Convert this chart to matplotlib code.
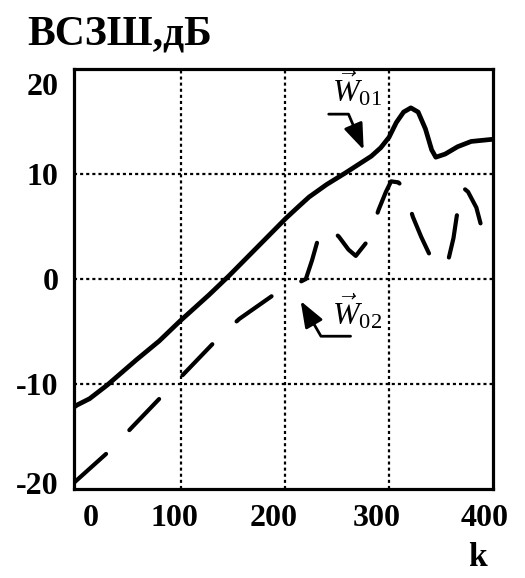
import numpy as np
import matplotlib
matplotlib.use('Agg')
import matplotlib.pyplot as plt
from matplotlib.transforms import ScaledTranslation

# values
k_w01 = [-3, 0, 12, 29, 57, 79, 99, 108, 127, 146, 175, 201, 213, 223, 240, 258, 283, 292, 300, 307, 314, 321, 328, 335, 341, 345, 354, 366, 379, 399]
w01 = [-12.2, -12.0, -11.4, -10.1, -7.7, -5.9, -4.0, -3.2, -1.5, 0.3, 3.2, 5.8, 6.9, 7.8, 9.0, 10.1, 11.7, 12.5, 13.5, 14.9, 15.9, 16.3, 15.9, 14.3, 12.3, 11.6, 11.9, 12.6, 13.1, 13.3]

k_w02 = [-3, 33, 53, 84, 103, 135, 156, 192, 208, 220, 226, 232, 242, 252, 261, 268, 280, 290, 297, 302, 309, 314, 323, 331, 341, 349, 357, 362, 365, 370, 376, 384, 388]
w02 = [-19.4, -16.2, -14.1, -10.9, -9.0, -5.7, -3.8, -1.3, -0.6, 0, 1.8, 3.9, 5.0, 4.0, 2.8, 2.2, 3.7, 6.6, 8.3, 9.3, 9.2, 8.7, 5.9, 4.0, 1.9, 1.0, 1.8, 3.9, 5.9, 8.8, 8.3, 6.8, 5.3]

xticks = [0, 100, 200, 300, 400]
yticks = [-20, -10, 0, 10, 20]
xlab_shift = [14, -7, -11, -12, -8]   # px, labels in the original sit off the grid
ylab_shift = [6, 0, 0, 0, -15]

plt.rcParams['font.family'] = 'Liberation Serif'
plt.rcParams['font.weight'] = 'bold'
plt.rcParams['axes.unicode_minus'] = False
plt.rcParams['mathtext.fontset'] = 'custom'
plt.rcParams['mathtext.rm'] = 'Liberation Serif:weight=normal'
plt.rcParams['mathtext.it'] = 'Liberation Serif:italic:weight=normal'
plt.rcParams['lines.scale_dashes'] = False

fig = plt.figure(figsize=(5.25, 5.78), dpi=100)
ax = fig.add_axes([74/525, 89/578, 419/525, 420/578])

ax.plot(k_w01, w01, color='black', lw=3.4, solid_capstyle='round', solid_joinstyle='round')
ax.plot(k_w02, w02, color='black', lw=3.0, dashes=(31, 24), dash_capstyle='round')

ax.set_xlim(-3, 398)
ax.set_ylim(-20, 20)
for v in [100, 200, 300]:
	ax.axvline(v, color='black', lw=1.6, dashes=(2.2, 2.2), zorder=0)
for v in [-10, 0, 10]:
	ax.axhline(v, color='black', lw=1.6, dashes=(2.2, 2.2), zorder=0)

for s in ax.spines.values():
	s.set_linewidth(2.3)

ax.set_xticks(xticks)
ax.set_yticks(yticks)
ax.tick_params(length=0, labelsize=23, pad=11)
for lab, dx in zip(ax.get_xticklabels(), xlab_shift):
	lab.set_transform(lab.get_transform() + ScaledTranslation(dx/100, 0, fig.dpi_scale_trans))
for lab, dy in zip(ax.get_yticklabels(), ylab_shift):
	lab.set_transform(lab.get_transform() + ScaledTranslation(0, dy/100, fig.dpi_scale_trans))

fig.text(27/525, 1 - 35/578, 'ВСЗШ,дБ', fontsize=30, fontweight='bold', va='center', ha='left')
fig.text(477/525, 1 - 557/578, 'k', fontsize=24, fontweight='bold', va='center', ha='center')

# labels with bent arrows
arr = dict(arrowstyle='-|>,head_length=0.8,head_width=0.3', color='black', lw=2,
	mutation_scale=20, shrinkA=0, shrinkB=0)
ax.text(245, 16.9, r'$\vec{W}_{01}$', fontsize=23, ha='left', va='baseline')
ax.annotate('', xy=(275.6, 12.3), xytext=(242, 15.7),
	arrowprops=dict(arr, connectionstyle='angle,angleA=0,angleB=113,rad=0'))
ax.text(245, -4.3, r'$\vec{W}_{02}$', fontsize=23, ha='left', va='baseline')
ax.annotate('', xy=(215, -2.1), xytext=(263, -5.45),
	arrowprops=dict(arr, connectionstyle='angle,angleA=0,angleB=-60,rad=0'))

plt.savefig('out.png', dpi=100)
